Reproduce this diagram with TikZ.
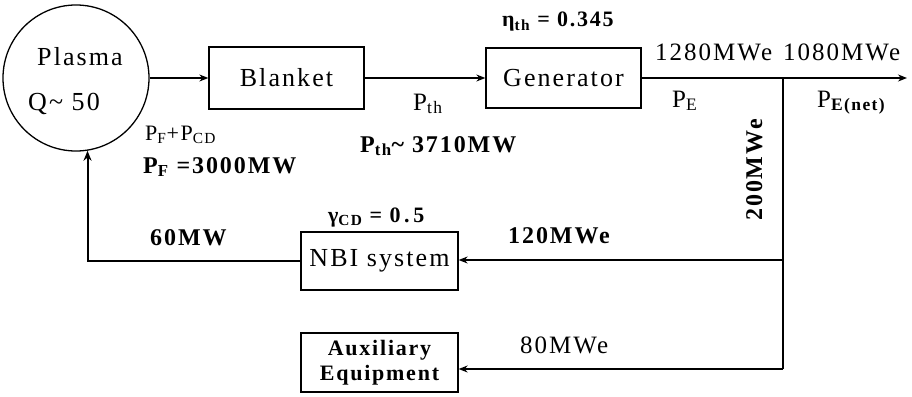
\documentclass[tikz,border=0pt]{standalone}
\usepackage{fontspec}
\setmainfont{Liberation Serif}[LetterSpace=8]
\usetikzlibrary{arrows.meta}
\begin{document}
\begin{tikzpicture}[x=1pt,y=-1pt,
  wire/.style={line width=1.3pt},
  conn/.style={line width=1.3pt,-{Stealth[length=9pt,width=7pt]}},
  box/.style={draw,line width=1.3pt,inner sep=0pt},
  lbl/.style={anchor=base west,inner sep=0pt},
  lblc/.style={anchor=base,inner sep=0pt},
  big/.style={font=\fontsize{26}{30}\selectfont},
  mid/.style={font=\fontsize{25}{29}\selectfont},
  midb/.style={font=\fontsize{24}{28}\selectfont\bfseries},
  sml/.style={font=\fontsize{22}{26}\selectfont},
  smlb/.style={font=\fontsize{22}{26}\selectfont\bfseries},
]
\useasboundingbox (0,0) rectangle (912,396);

% blocks
\node[draw,circle,line width=1.3pt,minimum size=146pt,inner sep=0pt] (plasma) at (76,78) {};
\node[box,big,minimum width=155pt,minimum height=62pt] (blanket) at (286.5,78) {Blanket};
\node[box,big,minimum width=155pt,minimum height=60pt] (gen) at (563.5,78) {Generator};
\node[box,big,minimum width=157pt,minimum height=58pt] (nbi) at (379.5,261) {NBI system};
\node[box,minimum width=157pt,minimum height=59pt,align=center,
      font=\fontsize{22}{25}\selectfont\bfseries] (aux) at (379.5,362.5) {Auxiliary\\Equipment};

% texts inside plasma
\node[lblc,big] (tplasma) at (80,66) {Plasma};
\node[lbl,big] (tq) at (28,110) {Q\textasciitilde\ 50};

% connection points
\coordinate (out) at (907,78);
\coordinate (brtop) at (783,78);
\coordinate (brmid) at (783,260);
\coordinate (brbot) at (783,369);

% connectors
\draw[conn] (plasma.east) -- (blanket.west);
\draw[conn] (blanket.east) -- (gen.west);
\draw[conn] (gen.east) -- (out);
\draw[wire] (brtop) -- (brbot);
\draw[conn] (brmid) -- (brmid -| nbi.east);
\draw[conn] (brbot) -- (brbot -| aux.east);
\draw[line width=2pt,-{Stealth[length=10pt,width=8pt]}] (nbi.west) -| (plasma.-81);

% labels
\node[lbl,sml] (lpfcd) at (145,140) {P\textsubscript{F}+P\textsubscript{CD}};
\node[lbl,midb] (lpf) at (143,173) {P\textsubscript{F} =3000MW};
\node[lbl,mid] (lpth) at (413,110) {P\textsubscript{th}};
\node[lbl,midb] (lpthv) at (360,152) {P\textsubscript{th}\textasciitilde\ 3710MW};
\node[lbl,smlb] (leta) at (502,27) {η\textsubscript{th} = 0.345};
\node[lbl,mid] (l1280) at (655,60) {1280MWe};
\node[lbl,mid] (l1080) at (783,60) {1080MWe};
\node[lbl,mid] (lpe) at (672,107) {P\textsubscript{E}};
\node[lbl,mid] (lpenet) at (817,107) {P\textsubscript{\bfseries E(net)}};
\node[lblc,midb,rotate=90] (l200) at (762,170) {200MWe};
\node[lbl,smlb] (lgam) at (328,222) {γ\textsubscript{CD} = 0\,.\,5};
\node[lbl,midb] (l60) at (150,245) {60MW};
\node[lbl,midb] (l120) at (508,243) {120MWe};
\node[lbl,mid] (l80) at (520,353) {80MWe};
\end{tikzpicture}
\end{document}
